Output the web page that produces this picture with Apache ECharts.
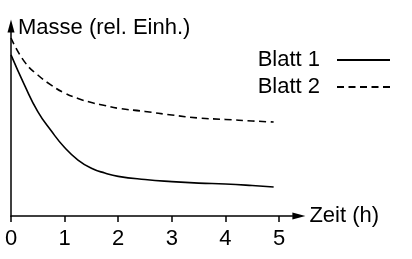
<!DOCTYPE html>
<html>
<head>
<meta charset="utf-8">
<script src="https://cdn.jsdelivr.net/npm/echarts@6/dist/echarts.min.js"></script>
<style>
    html, body { margin: 0; padding: 0; background: #fff; }
    #chart { width: 412px; height: 259px; }
</style>
</head>
<body>
<div id="chart"></div>
<script>
'use strict';
// Zeit in Stunden
const hours = [0, 0.25, 0.5, 0.75, 1, 1.25, 1.5, 1.75, 2, 2.5, 3, 3.5, 4, 4.5, 4.9];
// Masse (rel. Einh.)
const blatt1 = [86.6, 70.5, 56.1, 45.8, 36.8, 30.1, 25.7, 23.1, 21.3, 19.6, 18.5, 17.7, 17.2, 16.4, 15.6];
const blatt2 = [95.7, 83, 75.8, 70.4, 66.1, 63.2, 61, 59.4, 57.9, 56.2, 54.3, 52.7, 51.9, 51.1, 50.5];
const xTicks = [0, 1, 2, 3, 4, 5];
const names = ['Blatt 1', 'Blatt 2'];

const font = "'Liberation Sans', Arial, sans-serif";
const black = '#000';

const pairs = vals => hours.map((h, i) => [h, vals[i]]);

// Achse mit Pfeilspitze
const arrowLine = offset => ({
    show: true,
    symbol: ['none', 'triangle'],
    symbolSize: [7, 13],
    symbolOffset: [0, offset],
    lineStyle: { color: black, width: 1.5 }
});

const chart = echarts.init(document.getElementById('chart'), null, { renderer: 'canvas' });
chart.setOption({
    animation: false,
    textStyle: { fontFamily: font, color: black },
    grid: { left: 11, right: 119.6, top: 30, bottom: 43 },
    legend: {
        data: names,
        orient: 'vertical',
        align: 'right',
        right: 16,
        top: 44,
        itemWidth: 53,
        itemHeight: 14,
        itemGap: 5,
        itemStyle: { opacity: 0 },
        textStyle: { fontFamily: font, fontSize: 22, color: black, padding: [0, 12, 0, 0] }
    },
    xAxis: {
        type: 'value',
        min: 0,
        max: 5.25,
        interval: 1,
        name: 'Zeit (h)',
        nameLocation: 'end',
        nameGap: 17,
        nameTextStyle: { fontFamily: font, fontSize: 22, color: black, align: 'left', verticalAlign: 'middle', padding: [4, 0, 0, 0] },
        axisLine: arrowLine(6.5),
        axisTick: { show: true, length: 6, customValues: xTicks, lineStyle: { color: black, width: 1.5 } },
        axisLabel: { customValues: xTicks, margin: 12, fontFamily: font, fontSize: 22, color: black },
        splitLine: { show: false }
    },
    yAxis: {
        type: 'value',
        min: 0,
        max: 100,
        name: 'Masse (rel. Einh.)',
        nameLocation: 'end',
        nameGap: 2,
        nameTextStyle: { fontFamily: font, fontSize: 22, color: black, align: 'left', verticalAlign: 'middle', padding: [0, 0, 0, 7] },
        axisLine: arrowLine(4),
        axisTick: { show: false },
        axisLabel: { show: false },
        splitLine: { show: false }
    },
    series: [
        {
            name: names[0],
            type: 'line',
            data: pairs(blatt1),
            smooth: 0.5,
            symbol: 'none',
            lineStyle: { color: black, width: 1.6 },
            itemStyle: { color: black }
        },
        {
            name: names[1],
            type: 'line',
            data: pairs(blatt2),
            smooth: 0.5,
            symbol: 'none',
            lineStyle: { color: black, width: 1.6, type: [7, 4.5] },
            itemStyle: { color: black }
        }
    ]
});
</script>
</body>
</html>
